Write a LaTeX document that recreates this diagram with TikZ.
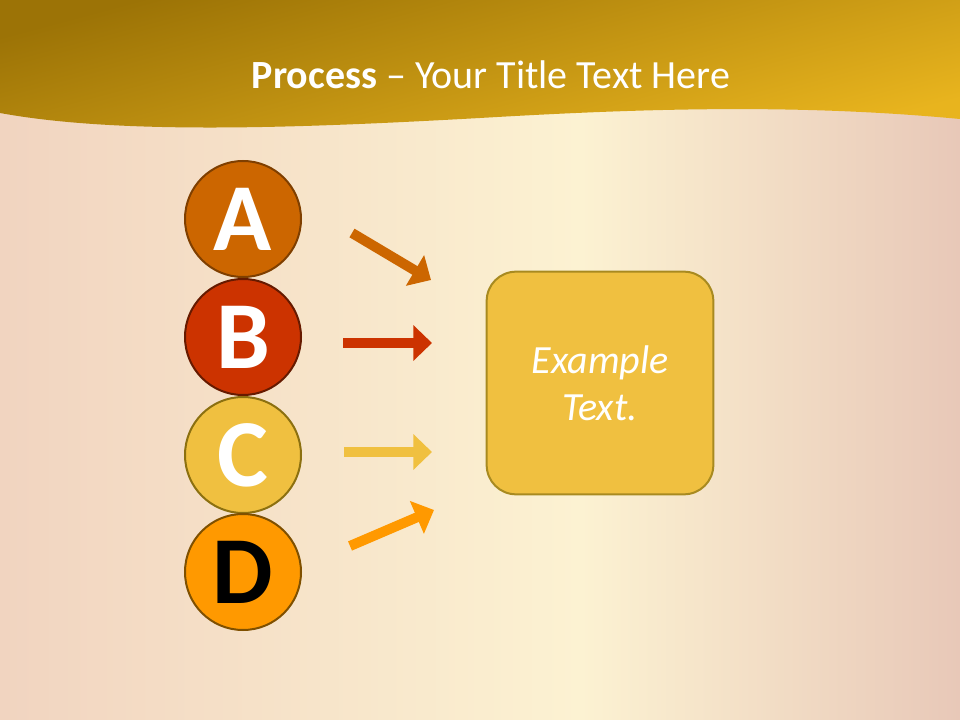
\documentclass[tikz,border=0pt]{standalone}
\usepackage{fontspec}
\setmainfont{Carlito}
\usetikzlibrary{arrows.meta}

\definecolor{bgleft}{HTML}{F1D4C0}
\definecolor{bgmid}{HTML}{FCF2D2}
\definecolor{bgright}{HTML}{E8C8B8}
\definecolor{bandtop}{HTML}{9C7306}
\definecolor{bandbot}{HTML}{E8B41E}
\definecolor{fillA}{HTML}{CC6600}
\definecolor{fillB}{HTML}{CC3300}
\definecolor{fillC}{HTML}{F0C040}
\definecolor{fillD}{HTML}{FF9900}
\definecolor{lineA}{HTML}{7F3F00}
\definecolor{lineB}{HTML}{661A00}
\definecolor{lineC}{HTML}{8C7010}
\definecolor{lineD}{HTML}{7F5000}
\definecolor{boxline}{HTML}{A88A20}

\begin{document}
\begin{tikzpicture}[x=0.75pt,y=-0.75pt]
  \useasboundingbox (0,0) rectangle (960,720);
  % background
  \shade[left color=bgleft, right color=bgmid] (0,0) rectangle (580,720);
  \shade[left color=bgmid, right color=bgright] (580,0) rectangle (960,720);
  % title band
  \shade[top color=bandtop, bottom color=bandbot, shading angle=15]
    (0,0) -- (960,0) -- (960,119) .. controls (800,104) and (650,108) .. (480,118)
    .. controls (300,128) and (120,135) .. (0,113) -- cycle;
  \node [text=white, font=\fontsize{30}{30}\selectfont] (title) at (491,75) {\textbf{Process} – Your Title Text Here};

  % letters
  \foreach \name/\y/\fcol/\dcol/\tcol in {A/219/fillA/lineA/white,B/337/fillB/lineB/white,C/455/fillC/lineC/white,D/572/fillD/lineD/black} {
    \node [circle,draw=\dcol,fill=\fcol,line width=1.5pt,inner sep=0,minimum size=87pt,text=\tcol,font=\fontsize{72}{72}\selectfont\bfseries] (\name) at (243,\y) {\name};
  }
  % arrows
  \foreach \name/\sx/\sy/\ex/\ey/\col in {A/352/233/431/280/fillA,B/343/343/432/343/fillB,C/344/452/432/452/fillC,D/350/546/434/510/fillD} {
    \coordinate (s\name) at (\sx,\sy);
    \coordinate (e\name) at (\ex,\ey);
    \draw [-{Triangle[width=26pt,length=14pt]},line width=7.5pt,draw=\col] (s\name) -- (e\name);
  }

  \node [draw=boxline,fill=fillC,line width=1.5pt,rounded corners=22pt,minimum width=170pt,minimum height=167pt,text=white,align=center,font=\fontsize{30}{35}\selectfont\itshape] (box) at (600,383) {Example\\Text.};
\end{tikzpicture}
\end{document}
